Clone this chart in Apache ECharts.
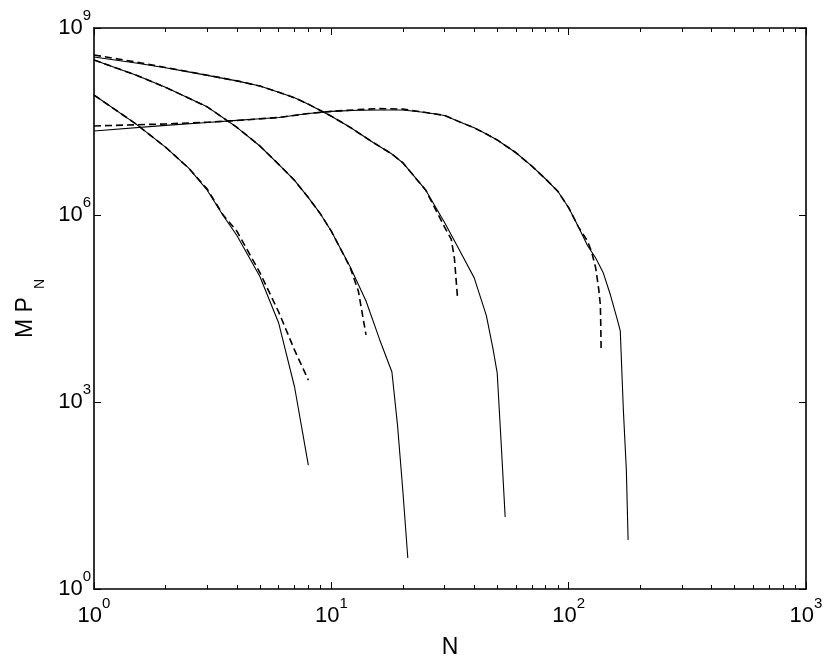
<!DOCTYPE html>
<html><head><meta charset="utf-8">
<script src="https://cdn.jsdelivr.net/npm/echarts@6/dist/echarts.min.js"></script>
<style>html,body{margin:0;padding:0;background:#fff}#c{width:830px;height:662px}</style>
</head><body><div id="c"></div>
<script>
// ---- tick labels (exponents of 10) ----
const xTickExp = [0, 1, 2, 3];
const yTickExp = [0, 3, 6, 9];
const xMinorTicks = [2,3,4,5,6,7,8,9,20,30,40,50,60,70,80,90,200,300,400,500,600,700,800,900];

// ---- curve A ----
const nA_solid = [1, 1.5, 2, 2.5, 3, 3.5, 4, 5, 6, 7, 8];
const vA_solid = [8.4e7, 2.9e7, 1.23e7, 5.7e6, 2.5e6, 9.8e5, 4.7e5, 1.03e5, 1.85e4, 1.74e3, 97];
const nA_dash = [1, 1.5, 2, 2.5, 3, 3.5, 4, 5, 6, 7, 8];
const vA_dash = [8.4e7, 2.9e7, 1.23e7, 5.7e6, 2.6e6, 1.0e6, 5.5e5, 1.19e5, 2.78e4, 6.8e3, 2.25e3];

// ---- curve B ----
const nB_solid = [1, 1.5, 2, 3, 4, 5, 6, 7, 8, 9, 10, 12, 14, 16, 18, 19, 20, 21];
const vB_solid = [3.07e8, 1.76e8, 1.12e8, 5.43e7, 2.55e7, 1.28e7, 6.5e6, 3.59e6, 1.9e6, 1.04e6, 5.5e5, 1.48e5, 4.18e4, 9.9e3, 3.03e3, 430, 38.7, 3.14];
const nB_dash = [1, 1.5, 2, 3, 4, 5, 6, 7, 8, 9, 10, 12, 13, 14];
const vB_dash = [3.07e8, 1.76e8, 1.12e8, 5.43e7, 2.55e7, 1.28e7, 6.5e6, 3.59e6, 1.9e6, 1.04e6, 5.5e5, 1.45e5, 6.0e4, 1.19e4];

// ---- curve C ----
const nC_solid = [1, 1.5, 2, 2.5, 3, 4, 5, 6, 7, 8, 10, 12, 15, 18, 20, 25, 30, 35, 40, 45, 48, 50, 52, 54];
const vC_solid = [3.43e8, 2.75e8, 2.3e8, 1.98e8, 1.74e8, 1.42e8, 1.17e8, 9.3e7, 7.6e7, 6.0e7, 3.85e7, 2.55e7, 1.46e7, 9.5e6, 6.9e6, 2.5e6, 7.6e5, 2.55e5, 9.8e4, 2.43e4, 7.1e3, 2.9e3, 204, 14.3];
const nC_dash = [1, 1.5, 2, 2.5, 3, 4, 5, 6, 7, 8, 10, 12, 15, 18, 20, 25, 30, 32, 33, 34];
const vC_dash = [3.69e8, 2.85e8, 2.33e8, 1.99e8, 1.75e8, 1.42e8, 1.17e8, 9.3e7, 7.6e7, 6.0e7, 3.85e7, 2.55e7, 1.46e7, 9.5e6, 6.9e6, 2.5e6, 6.4e5, 4.1e5, 2.04e5, 4.8e4];

// ---- curve D ----
const nD_solid = [1, 2, 3, 4, 5, 6, 8, 10, 13, 16, 20, 25, 30, 35, 40, 45, 50, 60, 70, 80, 90, 100, 110, 120, 130, 140, 150, 160, 165, 170, 175, 178];
const vD_solid = [2.23e7, 2.74e7, 3.05e7, 3.3e7, 3.5e7, 3.67e7, 4.24e7, 4.6e7, 4.8e7, 4.84e7, 4.84e7, 4.41e7, 3.95e7, 3.08e7, 2.5e7, 1.99e7, 1.6e7, 9.96e6, 6.07e6, 3.78e6, 2.4e6, 1.31e6, 6.4e5, 3.24e5, 2.04e5, 1.17e5, 5.2e4, 2.15e4, 1.38e4, 745, 81, 6.1];
const nD_dash = [1, 2, 3, 4, 6, 8, 10, 13, 16, 20, 25, 30, 35, 40, 45, 50, 60, 70, 80, 90, 100, 110, 120, 125, 130, 134, 136, 136.5, 137];
const vD_dash = [2.68e7, 2.89e7, 3.08e7, 3.28e7, 3.67e7, 4.24e7, 4.6e7, 4.9e7, 5.1e7, 5.0e7, 4.41e7, 3.95e7, 3.08e7, 2.5e7, 1.99e7, 1.6e7, 9.96e6, 6.07e6, 3.78e6, 2.4e6, 1.31e6, 6.4e5, 3.83e5, 2.55e5, 1.41e5, 6.27e4, 3.6e4, 1.85e4, 6.8e3];

const FONT = 'Liberation Sans, Arial, Helvetica, sans-serif';
const xTicks = xTickExp.map(e => Math.pow(10, e));
const yTicks = yTickExp.map(e => Math.pow(10, e));
const pair = (n, v) => n.map((x, i) => [x, v[i]]);
const expFmt = v => '{b|10}{s|' + Math.round(Math.log10(v)) + '}';
const labelRich = {
  b: {fontSize: 22, lineHeight: 40, fontFamily: FONT, color: '#000'},
  s: {fontSize: 15, lineHeight: 15, verticalAlign: 'top', fontFamily: FONT, color: '#000'}
};
const lineCol = '#000';

function xAx(pos, major, withLabel) {
  return {
    type: 'log', logBase: 10, min: 1, max: 1000, position: pos, gridIndex: 0,
    axisLine: {show: major, lineStyle: {color: lineCol, width: 1.6}},
    axisTick: {show: true, inside: true, length: major ? 7 : 4,
      customValues: major ? xTicks : xMinorTicks, lineStyle: {color: lineCol, width: 1}},
    axisLabel: withLabel ? {show: true, customValues: xTicks, formatter: expFmt, rich: labelRich, margin: 7} : {show: false},
    splitLine: {show: false}, minorTick: {show: false}, minorSplitLine: {show: false},
    name: withLabel ? 'N' : '', nameLocation: 'middle', nameGap: 47,
    nameTextStyle: {fontSize: 23, fontFamily: FONT, color: '#000', lineHeight: 23}
  };
}
function yAx(pos, withLabel) {
  return {
    type: 'log', logBase: 10, min: 1, max: 1e9, position: pos, gridIndex: 0,
    axisLine: {show: true, lineStyle: {color: lineCol, width: 1.6}},
    axisTick: {show: true, inside: true, length: 7, customValues: yTicks, lineStyle: {color: lineCol, width: 1}},
    axisLabel: withLabel ? {show: true, customValues: yTicks, formatter: expFmt, rich: labelRich, margin: 3} : {show: false},
    splitLine: {show: false},
    name: withLabel ? '{m|M P}{n|N}' : '', nameLocation: 'middle', nameGap: 46, nameRotate: 90,
    nameTextStyle: {rich: {
      m: {fontSize: 23, lineHeight: 44, fontFamily: FONT, color: '#000'},
      n: {fontSize: 14, lineHeight: 14, verticalAlign: 'bottom', padding: [0, 0, 0, 8], fontFamily: FONT, color: '#000'}
    }}
  };
}
function ser(n, v, dashed) {
  return {
    type: 'line', xAxisIndex: 0, yAxisIndex: 0, data: pair(n, v),
    showSymbol: false, symbol: 'none', smooth: false, silent: true,
    lineStyle: dashed ? {color: '#000', width: 1.6, type: [7, 4]} : {color: '#000', width: 1.1},
    z: dashed ? 3 : 2
  };
}

const chart = echarts.init(document.getElementById('c'), null, {renderer: 'canvas'});
chart.setOption({
  animation: false,
  backgroundColor: '#fff',
  grid: {left: 94, right: 24, top: 28, bottom: 73, containLabel: false, outerBoundsMode: 'none'},
  xAxis: [xAx('bottom', true, true), xAx('bottom', false, false), xAx('top', true, false), xAx('top', false, false)],
  yAxis: [yAx('left', true), yAx('right', false)],
  series: [
    ser(nA_solid, vA_solid, false), ser(nA_dash, vA_dash, true),
    ser(nB_solid, vB_solid, false), ser(nB_dash, vB_dash, true),
    ser(nC_solid, vC_solid, false), ser(nC_dash, vC_dash, true),
    ser(nD_solid, vD_solid, false), ser(nD_dash, vD_dash, true)
  ]
});
</script></body></html>
